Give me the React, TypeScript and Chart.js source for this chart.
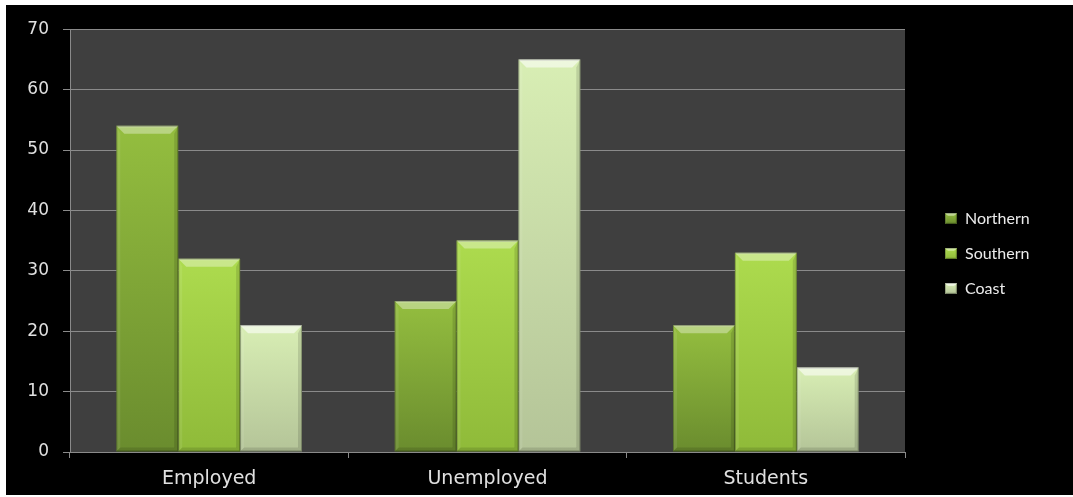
import React, { useEffect, useRef } from "react";
import { Chart, registerables } from "chart.js";

Chart.register(...registerables);

const categories = ["Employed", "Unemployed", "Students"];
const seriesNames = ["Northern", "Southern", "Coast"];
const northern = [54, 25, 21];
const southern = [32, 35, 33];
const coast = [21, 65, 14];
const yMax = 70;
const yStep = 10;

// [top colour, bottom colour] for each series
const seriesColors: [string, string][] = [
  ["#94be3f", "#6a8c2e"],
  ["#addb4e", "#8fba39"],
  ["#d8eeb4", "#b4c498"],
];

const FONT = "Lato, 'Liberation Sans', sans-serif";
const AXFONT = "'DejaVu Sans', sans-serif";

function barGradient(ctx: any, i: number) {
  const chart = ctx.chart;
  const ys = chart.scales && chart.scales.y;
  const c = seriesColors[i];
  if (!chart.chartArea || !ys || ctx.raw === undefined) return c[1];
  const top = ys.getPixelForValue(ctx.raw);
  const bot = ys.getPixelForValue(0);
  if (!isFinite(top) || !isFinite(bot) || top === bot) return c[1];
  const g = chart.ctx.createLinearGradient(0, top, 0, bot);
  g.addColorStop(0, c[0]);
  g.addColorStop(1, c[1]);
  return g;
}

const plotBg = {
  id: "plotBg",
  beforeDraw(chart: any) {
    const { ctx, chartArea: a } = chart;
    ctx.save();
    ctx.fillStyle = "#3f3f3f";
    ctx.fillRect(a.left, a.top, a.right - a.left, a.bottom - a.top);
    ctx.restore();
  },
};

function bevel(ctx: CanvasRenderingContext2D, l: number, t: number, r: number, b: number, s: number, strong: number) {
  // top
  ctx.fillStyle = `rgba(255,255,255,${0.35 * strong})`;
  ctx.beginPath();
  ctx.moveTo(l, t);
  ctx.lineTo(r, t);
  ctx.lineTo(r - s, t + s);
  ctx.lineTo(l + s, t + s);
  ctx.closePath();
  ctx.fill();
  // left
  ctx.fillStyle = "rgba(255,255,255,0.08)";
  ctx.beginPath();
  ctx.moveTo(l, t);
  ctx.lineTo(l + s * 0.5, t + s);
  ctx.lineTo(l + s * 0.5, b - s * 0.5);
  ctx.lineTo(l, b);
  ctx.closePath();
  ctx.fill();
  // right
  ctx.fillStyle = "rgba(0,0,0,0.12)";
  ctx.beginPath();
  ctx.moveTo(r, t);
  ctx.lineTo(r - s * 0.5, t + s);
  ctx.lineTo(r - s * 0.5, b - s * 0.5);
  ctx.lineTo(r, b);
  ctx.closePath();
  ctx.fill();
  // bottom
  ctx.fillStyle = "rgba(0,0,0,0.12)";
  ctx.beginPath();
  ctx.moveTo(l, b);
  ctx.lineTo(l + s * 0.5, b - s * 0.5);
  ctx.lineTo(r - s * 0.5, b - s * 0.5);
  ctx.lineTo(r, b);
  ctx.closePath();
  ctx.fill();
  // top highlight line
  ctx.fillStyle = `rgba(255,255,255,${0.3 * strong})`;
  ctx.fillRect(l + 1, t, r - l - 2, 1.5);
  // outline
  ctx.strokeStyle = "rgba(0,0,0,0.25)";
  ctx.lineWidth = 1;
  ctx.strokeRect(l + 0.5, t + 0.5, r - l - 1, b - t - 1);
}

const barBevel = {
  id: "barBevel",
  afterDatasetsDraw(chart: any) {
    const ctx = chart.ctx as CanvasRenderingContext2D;
    ctx.save();
    chart.data.datasets.forEach((_: any, i: number) => {
      const meta = chart.getDatasetMeta(i);
      meta.data.forEach((el: any) => {
        const p = el.getProps(["x", "y", "base", "width"], true);
        const l = p.x - p.width / 2;
        const r = p.x + p.width / 2;
        bevel(ctx, l, p.y, r, p.base, 8, i === 2 ? 1.6 : 1);
      });
    });
    ctx.restore();
  },
};

const legendPlugin = {
  id: "customLegend",
  afterDraw(chart: any) {
    const ctx = chart.ctx as CanvasRenderingContext2D;
    const x0 = chart.chartArea.right + 40;
    const ys = [213, 248, 283];
    ctx.save();
    seriesNames.forEach((name, i) => {
      const y = ys[i];
      const c = seriesColors[i];
      const g = ctx.createLinearGradient(0, y - 5, 0, y + 6);
      g.addColorStop(0, c[0]);
      g.addColorStop(1, c[1]);
      ctx.fillStyle = g;
      ctx.fillRect(x0, y - 5, 12, 11);
      bevel(ctx, x0, y - 5, x0 + 12, y + 6, 3, i === 2 ? 1.6 : 1);
      ctx.fillStyle = "#ececec";
      ctx.font = `16px ${FONT}`;
      ctx.textBaseline = "middle";
      ctx.textAlign = "left";
      ctx.fillText(name, x0 + 20, y + 1);
    });
    ctx.restore();
  },
};

export default function App() {
  const ref = useRef<HTMLCanvasElement | null>(null);
  useEffect(() => {
    if (!ref.current) return;
    const data = [northern, southern, coast];
    const chart = new Chart(ref.current, {
      type: "bar",
      data: {
        labels: categories,
        datasets: seriesNames.map((name, i) => ({
          label: name,
          data: data[i],
          backgroundColor: (ctx: any) => barGradient(ctx, i),
          borderWidth: 0,
          barPercentage: 1,
          categoryPercentage: 0.667,
        })),
      },
      options: {
        animation: false,
        responsive: false,
        maintainAspectRatio: false,
        devicePixelRatio: 1,
        layout: { padding: { top: 22, right: 168, bottom: 0, left: 0 } },
        plugins: {
          legend: { display: false },
          tooltip: { enabled: false },
        },
        scales: {
          x: {
            grid: {
              display: true,
              drawOnChartArea: false,
              drawTicks: true,
              tickLength: 6,
              color: "#8a8a8a",
              offset: true,
            },
            border: { display: true, color: "#8a8a8a" },
            ticks: {
              color: "#e0e0e0",
              font: { family: AXFONT, size: 19 },
              padding: 10,
            },
            afterFit: (s: any) => {
              s.height = 43;
            },
          },
          y: {
            min: 0,
            max: yMax,
            ticks: {
              stepSize: yStep,
              color: "#e0e0e0",
              font: { family: AXFONT, size: 17 },
              padding: 14,
            },
            grid: {
              color: "#8a8a8a",
              drawTicks: true,
              tickLength: 7,
            },
            border: { display: true, color: "#8a8a8a" },
            afterFit: (s: any) => {
              s.width = 64;
            },
          },
        },
      },
      plugins: [plotBg, barBevel, legendPlugin],
    });
    return () => chart.destroy();
  }, []);

  return (
    <div
      style={{
        position: "fixed",
        left: 6,
        top: 5,
        width: 1067,
        height: 490,
        background: "#000",
      }}
    >
      <canvas ref={ref} width={1067} height={490} style={{ display: "block" }} />
    </div>
  );
}
